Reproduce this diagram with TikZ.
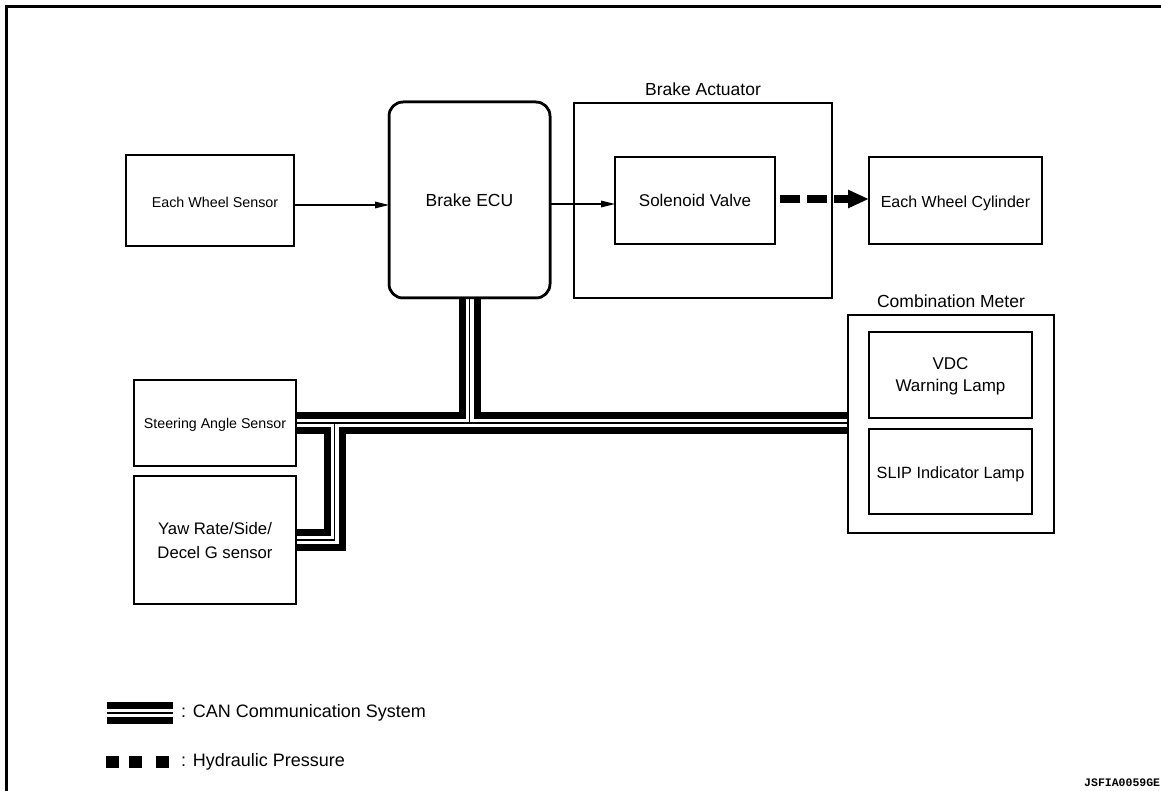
\documentclass[tikz,border=0pt]{standalone}
\usepackage{fontspec}
\setmainfont{Liberation Sans}
\newfontfamily\codefont{Liberation Mono}
\usetikzlibrary{arrows.meta,calc}
\newcommand{\fs}[2][0]{\fontsize{#2}{\ifdim#1pt=0pt #2pt\else #1pt\fi}\selectfont}
\begin{document}
\begin{tikzpicture}[x=1pt,y=-1pt,
  box/.style={draw, line width=2.5pt, fill=white, inner sep=0pt, outer sep=0pt, align=center, text depth=0pt},
  conn/.style={line width=1.3pt, -{Triangle[length=14pt,width=6.5pt]}},
  hyd/.style={line width=8pt, dash pattern=on 20pt off 7pt, -{Triangle[length=21pt,width=17pt]}},
  busa/.style={line width=22pt, line join=miter, line cap=butt},
  busb/.style={line width=8pt, white, line join=miter, line cap=butt},
  busc/.style={line width=1.5pt, line join=miter, line cap=butt},
  lbl/.style={anchor=base, inner sep=0pt}]
\useasboundingbox (0,0) rectangle (1161,791);
\draw[line width=2.5pt] (6.5,791) -- (6.5,6.5) -- (1161,6.5);

% boxes
\node[box, minimum width=168pt, minimum height=91pt] (ews) at (210,200.5) {\raisebox{-3pt}{\hspace*{10pt}\fs{14.3}Each Wheel Sensor}};
\node[box, rounded corners=14pt, minimum width=161pt, minimum height=196pt] (ecu) at (469.5,200) {\fs{17.5}Brake ECU};
\node[box, minimum width=258pt, minimum height=195pt] (act) at (703,200.5) {};
\node[lbl] (actl) at (703,96) {\fs{17.5}Brake Actuator};
\node[box, minimum width=160pt, minimum height=87pt] (sol) at (695,200.5) {\fs{17}Solenoid Valve};
\node[box, minimum width=173pt, minimum height=87pt] (cyl) at (955.5,200.5) {\raisebox{-3pt}{\fs{16}Each Wheel Cylinder}};
\node[box, minimum width=206pt, minimum height=218pt] (cm) at (951,424) {};
\node[lbl] (cml) at (951,308) {\fs{17.5}Combination Meter};
\node[box, minimum width=163pt, minimum height=86pt, font={\fs[22]{17}}] (vdc) at (950.5,375) {VDC\\Warning Lamp};
\node[box, minimum width=163pt, minimum height=85pt] (slip) at (950.5,471.5) {\raisebox{-2pt}{\fs{16.3}SLIP Indicator Lamp}};
\node[box, minimum width=162pt, minimum height=86pt] (sas) at (215,423) {\fs{14.2}Steering Angle Sensor};
\node[box, minimum width=162pt, minimum height=128pt, font={\fs[24]{16.7}}] (yaw) at (215,540) {Yaw Rate/Side/\\Decel G sensor};

% signal arrows
\draw[conn] (ews.east |- 0,205) -- (ecu.west |- 0,205);
\draw[conn] (ecu.east |- 0,204) -- (sol.west |- 0,204);
\draw[hyd] ([xshift=5pt,yshift=1.5pt]sol.east) -- ([yshift=1.5pt]cyl.west);

% CAN bus
\coordinate (j1) at (334.5,423);
\foreach \s in {busa,busb,busc}{
  \draw[\s] (sas.east) -- (sas.east -| cm.west);
  \draw[\s] (ecu.south) -- (ecu.south |- sas.east);
  \draw[\s] (j1) |- (yaw.east);
}
\draw[line width=2.5pt] (sas.north west) rectangle (sas.south east);
\draw[line width=2.5pt] (yaw.north west) rectangle (yaw.south east);
\draw[line width=2.5pt] (cm.north west) rectangle (cm.south east);
\draw[line width=2.5pt, rounded corners=14pt] (ecu.north west) rectangle (ecu.south east);

% legend
\coordinate (la) at (107,713);
\coordinate (lb) at (173,713);
\foreach \s in {busa,busb,busc}{ \draw[\s] (la) -- (lb); }
\node[anchor=west, inner sep=0pt] (lcan) at (181,713) {\fs{18}: CAN Communication System};
\fill (106,756) rectangle (119,768);
\fill (129,756) rectangle (142,768);
\fill (156,756) rectangle (169,768);
\node[anchor=west, inner sep=0pt] (lhyd) at (181,762) {\fs{18}: Hydraulic Pressure};
\node[anchor=west, inner sep=0pt] (code) at (1084,783) {\codefont\bfseries\fs{11.5}JSFIA0059GE};
\end{tikzpicture}
\end{document}
